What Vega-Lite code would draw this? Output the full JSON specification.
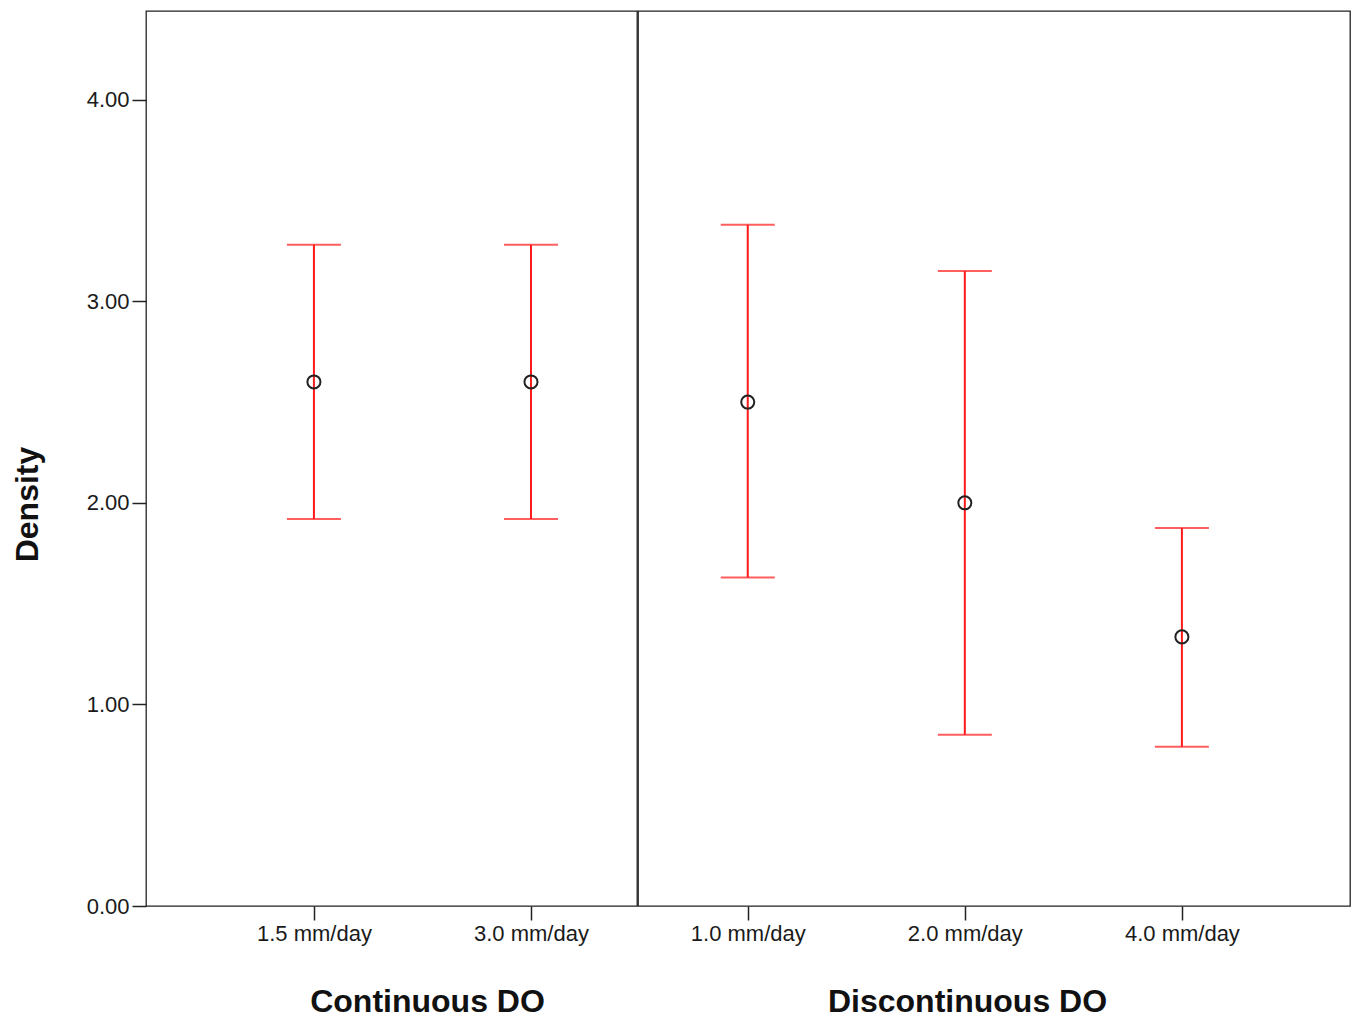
{
  "$schema": "https://vega.github.io/schema/vega-lite/v6.json",
  "padding": {"left": 10, "top": 10, "right": 4, "bottom": 5},
  "background": "white",
  "spacing": -1,
  "data": {"values": [
    {"group": "Continuous DO", "dose": "1.5 mm/day", "mean": 2.60, "lower": 1.92, "upper": 3.28},
    {"group": "Continuous DO", "dose": "3.0 mm/day", "mean": 2.60, "lower": 1.92, "upper": 3.28},
    {"group": "Discontinuous DO", "dose": "1.0 mm/day", "mean": 2.50, "lower": 1.63, "upper": 3.38},
    {"group": "Discontinuous DO", "dose": "2.0 mm/day", "mean": 2.00, "lower": 0.85, "upper": 3.15},
    {"group": "Discontinuous DO", "dose": "4.0 mm/day", "mean": 1.335, "lower": 0.79, "upper": 1.875}
  ]},
  "config": {
    "font": "Liberation Sans",
    "view": {"stroke": "#222", "strokeWidth": 1.3},
    "axis": {"grid": false, "domain": false, "tickColor": "#222", "tickWidth": 1.5, "tickSize": 14, "labelColor": "#1a1a1a", "labelFont": "Liberation Sans", "titleFont": "Liberation Sans", "titleColor": "#111"}
  },
  "resolve": {"scale": {"y": "shared"}},
  "hconcat": [
    {
      "width": 491,
      "height": 895,
      "transform": [{"filter": "datum.group === 'Continuous DO'"}],
      "encoding": {
        "x": {"field": "dose", "type": "nominal", "sort": null,
          "scale": {"type": "point", "padding": 0.631, "align": 0.613},
          "axis": {"title": "Continuous DO", "labelAngle": 0, "labelFontSize": 22, "labelPadding": 3, "titleFontSize": 32, "titleFontWeight": "bold", "titleX": 281, "titleY": 80, "titleBaseline": "top", "titleAlign": "center"}}
      },
      "layer": [
        {"mark": {"type": "rule", "color": "#ff1a1a", "strokeWidth": 2},
         "encoding": {"y": {"field": "lower", "type": "quantitative", "scale": {"domain": [0, 4.44], "nice": false},
           "axis": {"title": "Density", "values": [0, 1, 2, 3, 4], "format": ".2f", "labelFontSize": 22, "labelPadding": 3, "titleFontSize": 32, "titleFontWeight": "bold", "titleX": -119, "titleY": 493, "titleAngle": 270, "titleBaseline": "middle", "titleAlign": "center"}},
           "y2": {"field": "upper"}}},
        {"mark": {"type": "tick", "color": "#ff1a1a", "size": 54, "thickness": 2},
         "encoding": {"y": {"field": "upper", "type": "quantitative"}}},
        {"mark": {"type": "tick", "color": "#ff1a1a", "size": 54, "thickness": 2},
         "encoding": {"y": {"field": "lower", "type": "quantitative"}}},
        {"mark": {"type": "point", "shape": "circle", "filled": false, "stroke": "#222", "strokeWidth": 2, "size": 170, "opacity": 1},
         "encoding": {"y": {"field": "mean", "type": "quantitative"}}}
      ]
    },
    {
      "width": 712,
      "height": 895,
      "transform": [{"filter": "datum.group === 'Discontinuous DO'"}],
      "encoding": {
        "x": {"field": "dose", "type": "nominal", "sort": null,
          "scale": {"type": "point", "padding": 0.64, "align": 0.395},
          "axis": {"title": "Discontinuous DO", "labelAngle": 0, "labelFontSize": 22, "labelPadding": 3, "titleFontSize": 32, "titleFontWeight": "bold", "titleX": 329, "titleY": 80, "titleBaseline": "top", "titleAlign": "center"}}
      },
      "layer": [
        {"mark": {"type": "rule", "color": "#ff1a1a", "strokeWidth": 2},
         "encoding": {"y": {"field": "lower", "type": "quantitative", "scale": {"domain": [0, 4.44], "nice": false}, "axis": null},
           "y2": {"field": "upper"}}},
        {"mark": {"type": "tick", "color": "#ff1a1a", "size": 54, "thickness": 2},
         "encoding": {"y": {"field": "upper", "type": "quantitative", "axis": null}}},
        {"mark": {"type": "tick", "color": "#ff1a1a", "size": 54, "thickness": 2},
         "encoding": {"y": {"field": "lower", "type": "quantitative", "axis": null}}},
        {"mark": {"type": "point", "shape": "circle", "filled": false, "stroke": "#222", "strokeWidth": 2, "size": 170, "opacity": 1},
         "encoding": {"y": {"field": "mean", "type": "quantitative", "axis": null}}}
      ]
    }
  ]
}
